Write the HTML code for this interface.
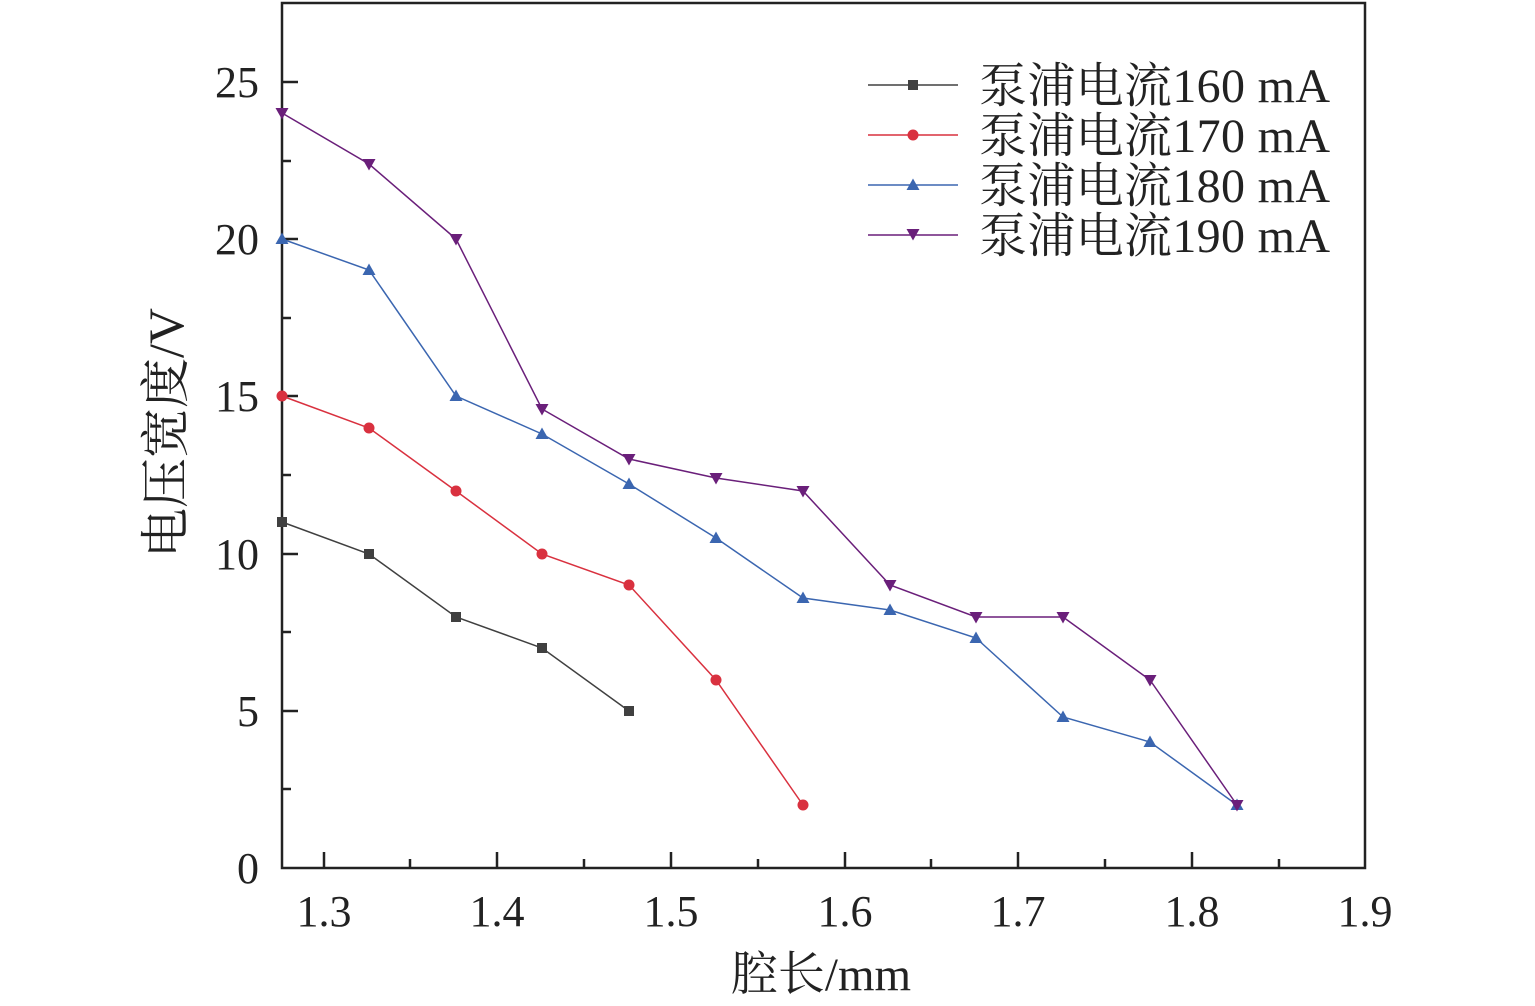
<!DOCTYPE html>
<html><head><meta charset="utf-8"><style>
html,body{margin:0;padding:0;background:#fff;}
svg{display:block;}
text{font-family:"Liberation Serif","Noto Serif CJK SC","Noto Sans CJK SC",serif;fill:#222;}
</style></head><body>
<svg width="1535" height="1006" xmlns="http://www.w3.org/2000/svg">
<defs>
<marker id="sq" markerWidth="14" markerHeight="14" refX="7" refY="7" markerUnits="userSpaceOnUse"><rect x="2" y="2" width="10" height="10" fill="#404040"/></marker>
<marker id="ci" markerWidth="14" markerHeight="14" refX="7" refY="7" markerUnits="userSpaceOnUse"><circle cx="7" cy="7" r="5.5" fill="#d9313f"/></marker>
<marker id="tu" markerWidth="16" markerHeight="16" refX="8" refY="8" markerUnits="userSpaceOnUse"><polygon points="8,1.5 14.5,13 1.5,13" fill="#3b66b0"/></marker>
<marker id="td" markerWidth="16" markerHeight="16" refX="8" refY="8" markerUnits="userSpaceOnUse"><polygon points="1.5,3 14.5,3 8,14.5" fill="#6a1f7a"/></marker>
</defs>
<rect x="282" y="3" width="1083" height="865" fill="none" stroke="#222" stroke-width="2.5"/>
<g stroke="#222" stroke-width="2.5">
<line x1="324" y1="868" x2="324" y2="852"/><line x1="497" y1="868" x2="497" y2="852"/><line x1="671" y1="868" x2="671" y2="852"/><line x1="845" y1="868" x2="845" y2="852"/><line x1="1018" y1="868" x2="1018" y2="852"/><line x1="1192" y1="868" x2="1192" y2="852"/>
<line x1="410" y1="868" x2="410" y2="859"/><line x1="584" y1="868" x2="584" y2="859"/><line x1="758" y1="868" x2="758" y2="859"/><line x1="931" y1="868" x2="931" y2="859"/><line x1="1105" y1="868" x2="1105" y2="859"/><line x1="1279" y1="868" x2="1279" y2="859"/>
<line x1="282" y1="711" x2="298" y2="711"/><line x1="282" y1="554" x2="298" y2="554"/><line x1="282" y1="396" x2="298" y2="396"/><line x1="282" y1="239" x2="298" y2="239"/><line x1="282" y1="82" x2="298" y2="82"/>
<line x1="282" y1="789" x2="291" y2="789"/><line x1="282" y1="632" x2="291" y2="632"/><line x1="282" y1="475" x2="291" y2="475"/><line x1="282" y1="318" x2="291" y2="318"/><line x1="282" y1="161" x2="291" y2="161"/>
</g>
<g font-size="44" text-anchor="middle">
<text x="324" y="926">1.3</text><text x="497" y="926">1.4</text><text x="671" y="926">1.5</text><text x="845" y="926">1.6</text><text x="1018" y="926">1.7</text><text x="1192" y="926">1.8</text><text x="1365" y="926">1.9</text>
</g>
<g font-size="44" text-anchor="end">
<text x="259" y="883">0</text><text x="259" y="726">5</text><text x="259" y="569">10</text><text x="259" y="411">15</text><text x="259" y="254">20</text><text x="259" y="97">25</text>
</g>
<text x="821" y="990" font-size="47" text-anchor="middle">腔长/mm</text>
<text transform="translate(183,433) rotate(-90)" font-size="50" text-anchor="middle">电压宽度/V</text>
<polyline fill="none" stroke="#404040" stroke-width="1.5" marker-start="url(#sq)" marker-mid="url(#sq)" marker-end="url(#sq)" points="282,522 369,554 456,617 542,648 629,711"/>
<polyline fill="none" stroke="#d9313f" stroke-width="1.5" marker-start="url(#ci)" marker-mid="url(#ci)" marker-end="url(#ci)" points="282,396 369,428 456,491 542,554 629,585 716,680 803,805"/>
<polyline fill="none" stroke="#3b66b0" stroke-width="1.5" marker-start="url(#tu)" marker-mid="url(#tu)" marker-end="url(#tu)" points="282,239 369,270 456,396 542,434 629,484 716,538 803,598 890,610 976,638 1063,717 1150,742 1237,805"/>
<polyline fill="none" stroke="#6a1f7a" stroke-width="1.5" marker-start="url(#td)" marker-mid="url(#td)" marker-end="url(#td)" points="282,113 369,164 456,239 542,409 629,459 716,478 803,491 890,585 976,617 1063,617 1150,680 1237,805"/>
<g stroke-width="1.5">
<line x1="868" y1="85" x2="958" y2="85" stroke="#404040"/>
<line x1="868" y1="135" x2="958" y2="135" stroke="#d9313f"/>
<line x1="868" y1="185" x2="958" y2="185" stroke="#3b66b0"/>
<line x1="868" y1="235" x2="958" y2="235" stroke="#6a1f7a"/>
</g>
<rect x="908" y="80" width="10" height="10" fill="#404040"/>
<circle cx="913" cy="135" r="5.5" fill="#d9313f"/>
<polygon points="913,178.5 919.5,190 906.5,190" fill="#3b66b0"/>
<polygon points="906.5,229 919.5,229 913,240.5" fill="#6a1f7a"/>
<g font-size="48">
<text x="979" y="102" textLength="351">泵浦电流160 mA</text>
<text x="979" y="152" textLength="351">泵浦电流170 mA</text>
<text x="979" y="202" textLength="351">泵浦电流180 mA</text>
<text x="979" y="252" textLength="351">泵浦电流190 mA</text>
</g>
</svg>
</body></html>
